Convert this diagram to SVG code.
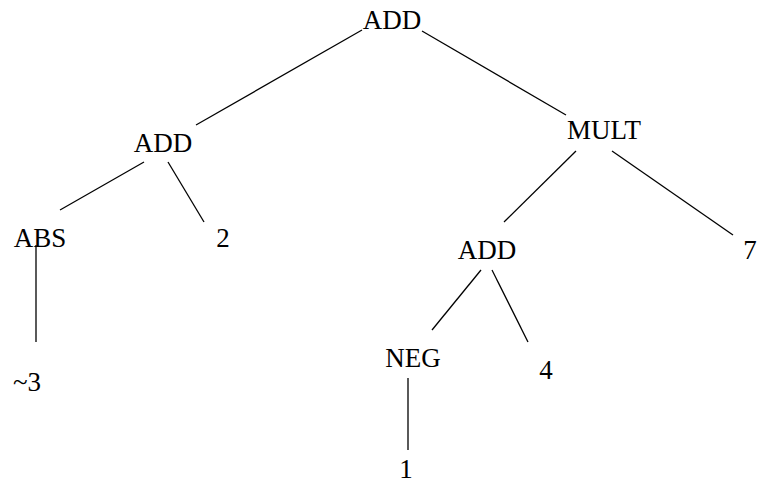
<svg xmlns="http://www.w3.org/2000/svg" width="757" height="487" viewBox="0 0 757 487">
<style>
text{font-family:"Liberation Serif","Times New Roman",serif;font-size:27px;fill:#000;text-anchor:middle}
line{stroke:#000;stroke-width:1.3}
</style>
<rect width="757" height="487" fill="#fff"/>
<g id="connectors">
<line x1="362" y1="30" x2="196" y2="125"/>
<line x1="422" y1="31" x2="566" y2="115"/>
<line x1="144" y1="162" x2="60" y2="210"/>
<line x1="168" y1="162" x2="204" y2="222"/>
<line x1="36" y1="245" x2="36" y2="342"/>
<line x1="576" y1="151" x2="504" y2="222"/>
<line x1="612" y1="151" x2="733" y2="235"/>
<line x1="481" y1="270" x2="432" y2="330"/>
<line x1="492" y1="270" x2="528" y2="342"/>
<line x1="408" y1="378" x2="408" y2="450"/>
</g>
<g id="n-add-root"><text x="392" y="29">ADD</text></g>
<g id="n-add-left"><text x="163" y="152">ADD</text></g>
<g id="n-mult"><text x="604" y="139">MULT</text></g>
<g id="n-abs"><text x="40" y="247">ABS</text></g>
<g id="n-2"><text x="223" y="247">2</text></g>
<g id="n-add-right"><text x="487" y="259">ADD</text></g>
<g id="n-7"><text x="750" y="259">7</text></g>
<g id="n-neg"><text x="413" y="367">NEG</text></g>
<g id="n-4"><text x="546" y="379">4</text></g>
<g id="n-m3"><text x="27" y="391">~3</text></g>
<g id="n-1"><text x="406" y="478">1</text></g>
</svg>
